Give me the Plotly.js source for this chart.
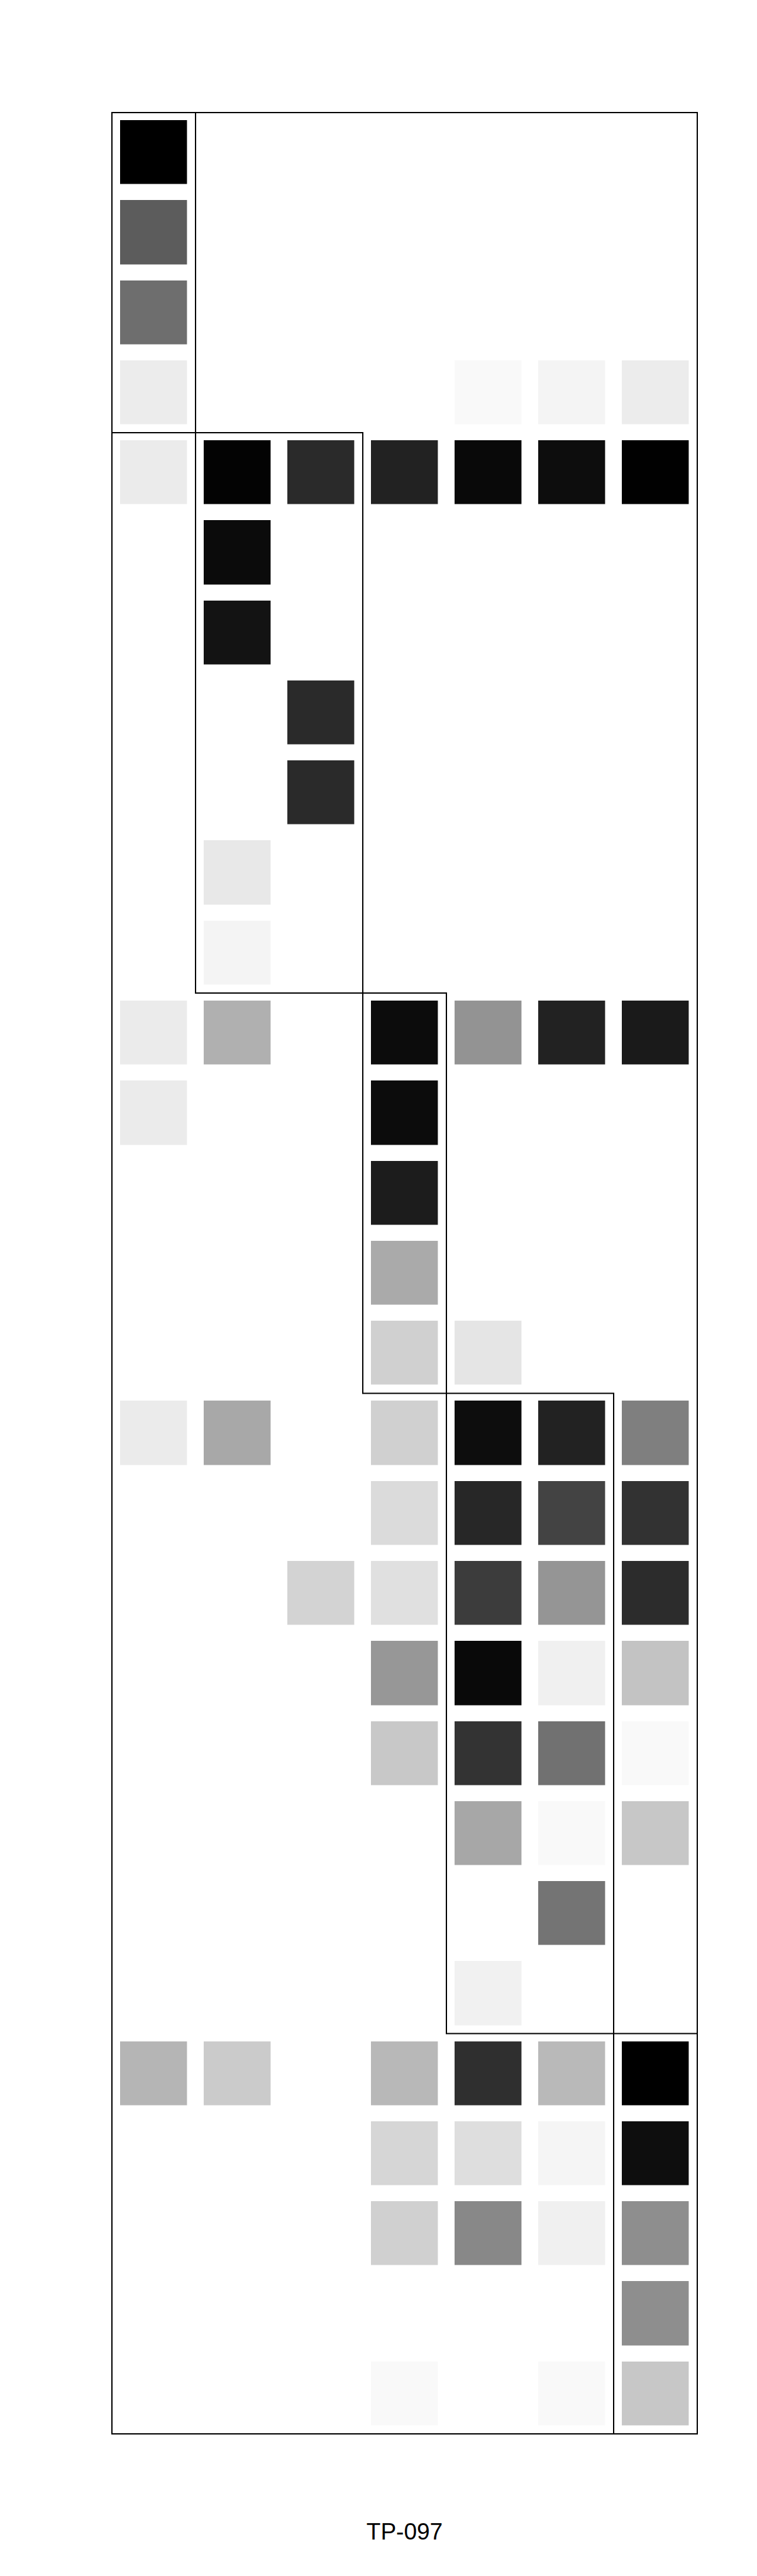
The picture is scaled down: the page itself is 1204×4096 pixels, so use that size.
<!DOCTYPE html>
<html>
<head>
<meta charset="utf-8">
<script src="https://cdn.plot.ly/plotly-3.0.1.min.js"></script>
<style>html,body{margin:0;padding:0;background:#fff;}#chart{width:1204px;height:4096px;}</style>
</head>
<body>
<div id="chart"></div>
<script>
// Column (sample) labels and row (feature) labels — not displayed in the reference
const columns = ["C1", "C2", "C3", "C4", "C5", "C6", "C7"];
const rows = Array.from({length: 29}, (_, i) => "R" + (i + 1));

// Intensity per column (0 = white, 1 = black); null = no cell drawn
const col1 = [1.00, 0.64, 0.57, 0.075, 0.078, null, null, null, null, null, null, 0.078, 0.078, null, null, null, 0.078, null, null, null, null, null, null, null, 0.29, null, null, null, null];
const col2 = [null, null, null, null, 0.99, 0.957, 0.925, null, null, 0.09, 0.043, 0.31, null, null, null, null, 0.341, null, null, null, null, null, null, null, 0.204, null, null, null, null];
const col3 = [null, null, null, null, 0.835, null, null, 0.835, 0.835, null, null, null, null, null, null, null, null, null, 0.173, null, null, null, null, null, null, null, null, null, null];
const col4 = [null, null, null, null, 0.867, null, null, null, null, null, null, 0.953, 0.953, 0.89, 0.333, 0.184, 0.184, 0.141, 0.122, 0.408, 0.216, null, null, null, 0.278, 0.161, 0.184, null, 0.024];
const col5 = [null, null, null, 0.024, 0.965, null, null, null, null, null, null, 0.424, null, null, null, 0.102, 0.949, 0.847, 0.765, 0.965, 0.80, 0.345, null, 0.055, 0.816, 0.129, 0.467, null, null];
const col6 = [null, null, null, 0.043, 0.949, null, null, null, null, null, null, 0.867, null, null, null, null, 0.867, 0.737, 0.416, 0.059, 0.557, 0.024, 0.545, null, 0.275, 0.039, 0.059, null, 0.024];
const col7 = [null, null, null, 0.075, 0.996, null, null, null, null, null, null, 0.898, null, null, null, null, 0.502, 0.804, 0.827, 0.235, 0.024, 0.22, null, null, 1.00, 0.945, 0.443, 0.443, 0.22];

// Cluster blocks (column index range, row index range)
const groupColStart = [0, 1, 3, 4, 6];
const groupColEnd   = [0, 2, 3, 5, 6];
const groupRowStart = [0, 4, 11, 16, 24];
const groupRowEnd   = [3, 10, 15, 23, 28];

const chartTitle = "TP-097";

const colsData = [col1, col2, col3, col4, col5, col6, col7];
const z = rows.map((_, r) => colsData.map(c => c[r]));

const trace = {
  type: "heatmap",
  z: z,
  x: columns.map((_, i) => i),
  y: rows.map((_, i) => i),
  zmin: 0, zmax: 1,
  colorscale: [[0, "#ffffff"], [1, "#000000"]],
  showscale: false,
  xgap: 26.6,
  ygap: 25.5,
  hoverongaps: false
};

const shapes = [];
for (let g = 0; g < groupColStart.length; g++) {
  shapes.push({
    type: "rect", xref: "x", yref: "y",
    x0: groupColStart[g] - 0.5, x1: groupColEnd[g] + 0.5,
    y0: groupRowStart[g] - 0.5, y1: groupRowEnd[g] + 0.5,
    line: {color: "#000", width: 2}, fillcolor: "rgba(0,0,0,0)"
  });
}
// outer frame around the whole plotting area (paper refs so it is not clipped)
shapes.push({
  type: "rect", xref: "paper", yref: "paper",
  x0: 0, x1: 1, y0: 0, y1: 1,
  line: {color: "#000", width: 2}, fillcolor: "rgba(0,0,0,0)"
});

const layout = {
  width: 1204, height: 4096,
  margin: {l: 178.4, r: 94.5, t: 179, b: 226, pad: 0},
  paper_bgcolor: "#ffffff", plot_bgcolor: "#ffffff",
  font: {family: "Liberation Sans, Arial, sans-serif", color: "#000"},
  title: {text: chartTitle, x: 0.5, xanchor: "center", xref: "paper", y: 0.0173, yref: "container", yanchor: "middle", font: {size: 37, family: "Liberation Sans, Arial, sans-serif", color: "#000"}},
  xaxis: {range: [-0.5, columns.length - 0.5], showgrid: false, zeroline: false, showticklabels: false, ticks: "", showline: false, fixedrange: true},
  yaxis: {range: [rows.length - 0.5, -0.5], showgrid: false, zeroline: false, showticklabels: false, ticks: "", showline: false, fixedrange: true},
  shapes: shapes,
  showlegend: false
};

Plotly.newPlot("chart", [trace], layout, {displayModeBar: false, staticPlot: true});
</script>
</body>
</html>
